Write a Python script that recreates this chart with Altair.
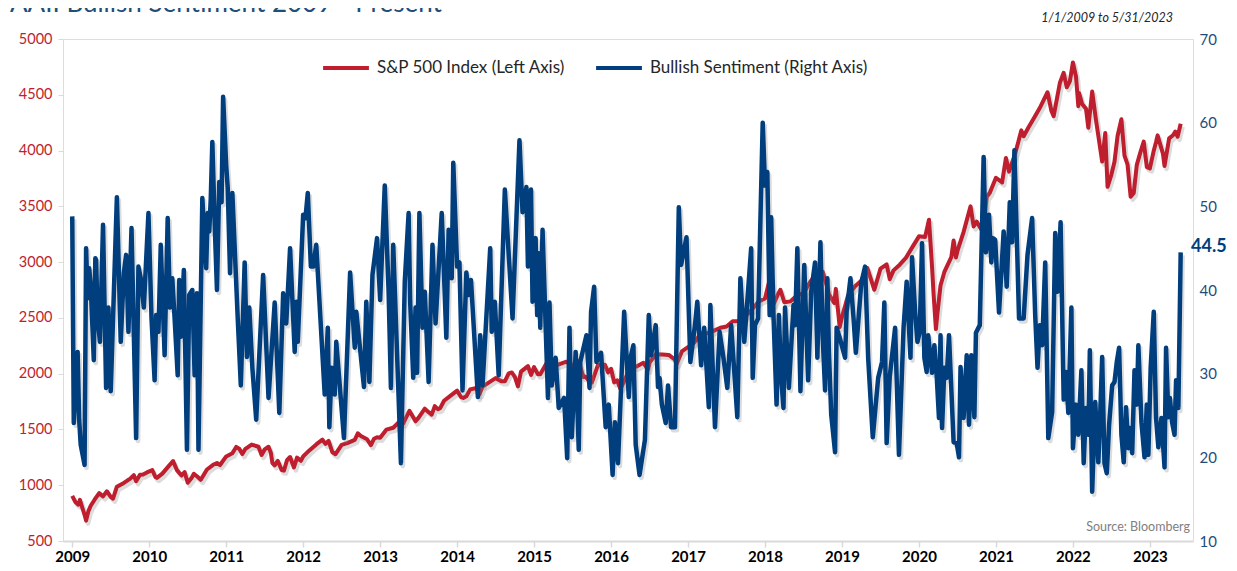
import altair as alt
import pandas as pd

RED = "#BE1E2D"
BLUE = "#003E7E"
AXBLUE = "#1F4E79"
FONT = "Lato"

SP_NAME = "S&P 500 Index (Left Axis)"
BULL_NAME = "Bullish Sentiment (Right Axis)"
TITLE = "AAII Bullish Sentiment 2009 - Present"
DATE_RANGE = "1/1/2009 to 5/31/2023"
SOURCE = "Source: Bloomberg"

# S&P 500 index (decimal year, level)
sp_t = [
    2009.00, 2009.04, 2009.08, 2009.10, 2009.13, 2009.16, 2009.18, 2009.21, 2009.24, 2009.29, 2009.35, 2009.40,
    2009.45, 2009.50, 2009.53, 2009.58, 2009.67, 2009.72, 2009.75, 2009.80, 2009.83, 2009.88, 2009.92, 2009.97,
    2010.04, 2010.08, 2010.10, 2010.17, 2010.25, 2010.31, 2010.36, 2010.42, 2010.46, 2010.50, 2010.55, 2010.58,
    2010.62, 2010.67, 2010.75, 2010.83, 2010.88, 2010.92, 2011.00,
    2011.08, 2011.13, 2011.17, 2011.21, 2011.25, 2011.33, 2011.42, 2011.46, 2011.50, 2011.55, 2011.58, 2011.60,
    2011.63, 2011.67, 2011.72, 2011.75, 2011.79, 2011.83, 2011.88, 2011.92, 2011.97, 2012.00,
    2012.08, 2012.17, 2012.25, 2012.29, 2012.33, 2012.38, 2012.42, 2012.50, 2012.58, 2012.67, 2012.71, 2012.75,
    2012.83, 2012.88, 2012.92, 2012.96, 2013.00,
    2013.08, 2013.17, 2013.25, 2013.30, 2013.33, 2013.38, 2013.46, 2013.50, 2013.58, 2013.63, 2013.67, 2013.71,
    2013.75, 2013.78, 2013.83, 2013.92, 2014.00,
    2014.05, 2014.08, 2014.12, 2014.17, 2014.25, 2014.29, 2014.33, 2014.42, 2014.50, 2014.58, 2014.62, 2014.67,
    2014.71, 2014.75, 2014.79, 2014.83, 2014.92, 2014.96, 2015.00,
    2015.05, 2015.08, 2015.17, 2015.25, 2015.33, 2015.42, 2015.50, 2015.55, 2015.58, 2015.64, 2015.67, 2015.72,
    2015.75, 2015.83, 2015.92, 2015.96, 2016.00,
    2016.04, 2016.08, 2016.12, 2016.17, 2016.25, 2016.33, 2016.42, 2016.48, 2016.50, 2016.58, 2016.67, 2016.75,
    2016.83, 2016.85, 2016.92, 2017.00,
    2017.08, 2017.17, 2017.25, 2017.33, 2017.42, 2017.50, 2017.58, 2017.67, 2017.75, 2017.83, 2017.92, 2018.00,
    2018.07, 2018.08, 2018.11, 2018.17, 2018.20, 2018.25, 2018.33, 2018.42, 2018.50, 2018.58, 2018.67, 2018.75,
    2018.81, 2018.83, 2018.90, 2018.92, 2018.97, 2019.00,
    2019.08, 2019.17, 2019.25, 2019.33, 2019.42, 2019.50, 2019.58, 2019.62, 2019.67, 2019.75, 2019.83, 2019.92,
    2020.00,
    2020.08, 2020.13, 2020.17, 2020.19, 2020.22, 2020.24, 2020.28, 2020.33, 2020.42, 2020.45, 2020.48, 2020.50,
    2020.58, 2020.67, 2020.71, 2020.75, 2020.83, 2020.88, 2020.92, 2021.00,
    2021.08, 2021.13, 2021.17, 2021.25, 2021.33, 2021.36, 2021.42, 2021.50, 2021.58, 2021.67, 2021.72, 2021.75,
    2021.83, 2021.88, 2021.92, 2021.96, 2022.00,
    2022.04, 2022.07, 2022.08, 2022.12, 2022.17, 2022.20, 2022.25, 2022.30, 2022.33, 2022.38, 2022.42, 2022.45,
    2022.50, 2022.54, 2022.58, 2022.63, 2022.67, 2022.71, 2022.75, 2022.79, 2022.83, 2022.88, 2022.92, 2022.96,
    2023.00,
    2023.05, 2023.08, 2023.10, 2023.17, 2023.19, 2023.25, 2023.30, 2023.33, 2023.36, 2023.40,
]
sp_v = [
    905, 850, 826, 869, 800, 735, 683, 768, 816, 870, 929, 900,
    946, 896, 880, 987, 1021, 1044, 1057, 1090, 1036, 1094, 1096, 1115,
    1136, 1074, 1066, 1104, 1169, 1217, 1135, 1087, 1118, 1022, 1065, 1102,
    1080, 1049, 1141, 1183, 1199, 1181, 1258,
    1286, 1343, 1327, 1279, 1326, 1364, 1345, 1271, 1321, 1345, 1292, 1199,
    1178, 1219, 1136, 1131, 1224, 1253, 1159, 1247, 1219, 1258,
    1312, 1366, 1408, 1370, 1398, 1295, 1278, 1362, 1379, 1407, 1465, 1441,
    1412, 1359, 1416, 1430, 1426,
    1498, 1515, 1569, 1555, 1598, 1667, 1573, 1606, 1686, 1655, 1633, 1709,
    1682, 1691, 1757, 1806, 1848,
    1790, 1783, 1797, 1859, 1872, 1815, 1884, 1924, 1960, 1931, 1931, 2003,
    2011, 1972, 1886, 2018, 2068, 1989, 2059,
    1994, 1995, 2105, 2068, 2086, 2107, 2063, 2127, 2104, 1971, 1972, 1931,
    1920, 2079, 2080, 2012, 2044,
    1922, 1940, 1865, 1932, 2060, 2065, 2097, 2037, 2099, 2174, 2171, 2168,
    2126, 2085, 2199, 2239,
    2279, 2364, 2363, 2384, 2412, 2423, 2470, 2472, 2519, 2575, 2648, 2674,
    2873, 2824, 2620, 2714, 2752, 2641, 2648, 2705, 2718, 2816, 2902, 2914,
    2768, 2712, 2633, 2760, 2417, 2507,
    2704, 2784, 2834, 2946, 2752, 2942, 2980, 2847, 2926, 2977, 3038, 3141,
    3231,
    3226, 3380, 2954, 2711, 2400, 2541, 2790, 2912, 3044, 3193, 3041, 3100,
    3271, 3500, 3320, 3363, 3270, 3585, 3622, 3756,
    3714, 3934, 3811, 3973, 4181, 4128, 4204, 4298, 4395, 4523, 4357, 4308,
    4605, 4697, 4567, 4620, 4790,
    4662, 4398, 4516, 4418, 4374, 4204, 4530, 4272, 4132, 3901, 4158, 3675,
    3785, 3900, 4130, 4280, 3955, 3873, 3586, 3620, 3872, 3993, 4080, 3852,
    3840,
    3999, 4077, 4136, 3970, 3862, 4109, 4137, 4169, 4124, 4240,
]

# AAII bullish sentiment (decimal year, percent)
bull_t = [
    2009.00, 2009.02, 2009.07, 2009.09, 2009.11, 2009.16, 2009.18, 2009.20, 2009.22, 2009.24, 2009.28, 2009.30,
    2009.31, 2009.33, 2009.36, 2009.40, 2009.44, 2009.47, 2009.50, 2009.58, 2009.63, 2009.67, 2009.70, 2009.73,
    2009.77, 2009.83, 2009.86, 2009.89, 2009.93, 2009.99,
    2010.03, 2010.07, 2010.09, 2010.12, 2010.15, 2010.20, 2010.24, 2010.27, 2010.30, 2010.33, 2010.37, 2010.39,
    2010.41, 2010.45, 2010.49, 2010.52, 2010.56, 2010.59, 2010.62, 2010.64, 2010.69, 2010.74, 2010.76, 2010.78,
    2010.80, 2010.82, 2010.85, 2010.88, 2010.91, 2010.94, 2010.96,
    2011.00, 2011.02, 2011.05, 2011.08, 2011.15, 2011.19, 2011.24, 2011.27, 2011.30, 2011.34, 2011.39, 2011.48,
    2011.55, 2011.63, 2011.69, 2011.74, 2011.78, 2011.83, 2011.89, 2011.91, 2011.93,
    2012.00, 2012.03, 2012.06, 2012.10, 2012.13, 2012.17, 2012.28, 2012.32, 2012.34, 2012.37, 2012.41, 2012.43,
    2012.53, 2012.61, 2012.67, 2012.69, 2012.79, 2012.82, 2012.86, 2012.90, 2012.96,
    2013.00, 2013.06, 2013.11, 2013.14, 2013.17, 2013.27, 2013.32, 2013.37, 2013.39, 2013.43, 2013.46, 2013.48,
    2013.51, 2013.55, 2013.58, 2013.63, 2013.68, 2013.72, 2013.80, 2013.86, 2013.89, 2013.93, 2013.95,
    2014.00, 2014.03, 2014.07, 2014.12, 2014.15, 2014.18, 2014.27, 2014.30, 2014.33, 2014.43, 2014.45, 2014.49,
    2014.54, 2014.62, 2014.72, 2014.81, 2014.85, 2014.90, 2014.92, 2014.96, 2014.98,
    2015.02, 2015.04, 2015.06, 2015.08, 2015.11, 2015.18, 2015.20, 2015.23, 2015.28, 2015.32, 2015.39, 2015.43,
    2015.46, 2015.49, 2015.54, 2015.58, 2015.60, 2015.68, 2015.72, 2015.74, 2015.78, 2015.81, 2015.87, 2015.93,
    2015.97,
    2016.02, 2016.05, 2016.09, 2016.17, 2016.23, 2016.26, 2016.29, 2016.32, 2016.37, 2016.44, 2016.49, 2016.52,
    2016.58, 2016.61, 2016.63, 2016.66, 2016.71, 2016.74, 2016.78, 2016.83, 2016.88, 2016.91, 2016.98,
    2017.03, 2017.09, 2017.12, 2017.17, 2017.21, 2017.27, 2017.29, 2017.35, 2017.41, 2017.46, 2017.51, 2017.56,
    2017.64, 2017.68, 2017.73, 2017.76, 2017.82, 2017.84, 2017.87, 2017.91, 2017.97,
    2018.00, 2018.03, 2018.06, 2018.08, 2018.11, 2018.15, 2018.18, 2018.21, 2018.24, 2018.26, 2018.31, 2018.37,
    2018.39, 2018.42, 2018.46, 2018.51, 2018.56, 2018.60, 2018.65, 2018.68, 2018.72, 2018.75, 2018.78, 2018.81,
    2018.83, 2018.86, 2018.91, 2018.93, 2018.97,
    2019.04, 2019.06, 2019.11, 2019.15, 2019.18, 2019.25, 2019.30, 2019.34, 2019.40, 2019.47, 2019.52, 2019.55,
    2019.58, 2019.62, 2019.69, 2019.74, 2019.80, 2019.84, 2019.89, 2019.91, 2019.95, 2019.98,
    2020.01, 2020.04, 2020.07, 2020.10, 2020.12, 2020.17, 2020.20, 2020.23, 2020.26, 2020.28, 2020.30, 2020.33,
    2020.36, 2020.39, 2020.45, 2020.49, 2020.52, 2020.54, 2020.58, 2020.62, 2020.65, 2020.68, 2020.72, 2020.74,
    2020.79, 2020.84, 2020.87, 2020.91, 2020.94, 2020.96, 2020.99,
    2021.04, 2021.10, 2021.14, 2021.18, 2021.21, 2021.24, 2021.30, 2021.36, 2021.41, 2021.47, 2021.51, 2021.54,
    2021.57, 2021.60, 2021.64, 2021.68, 2021.73, 2021.77, 2021.80, 2021.84, 2021.88, 2021.91, 2021.94, 2021.98,
    2022.00, 2022.04, 2022.07, 2022.11, 2022.14, 2022.17, 2022.20, 2022.22, 2022.25, 2022.29, 2022.33, 2022.35,
    2022.38, 2022.41, 2022.44, 2022.47, 2022.51, 2022.54, 2022.57, 2022.60, 2022.63, 2022.66, 2022.69, 2022.72,
    2022.74, 2022.77, 2022.80, 2022.83, 2022.85, 2022.89, 2022.93, 2022.96, 2022.98,
    2023.01, 2023.05, 2023.08, 2023.11, 2023.15, 2023.19, 2023.21, 2023.24, 2023.26, 2023.29, 2023.32, 2023.34,
    2023.37, 2023.40,
]
bull_v = [
    48.8, 24.1, 32.6, 24.5, 21.5, 19.1, 45.0, 39.0, 42.6, 40.6, 31.6, 43.8,
    43.6, 36.6, 33.8, 47.8, 28.3, 37.9, 27.9, 51.1, 33.8, 42.0, 44.2, 35.0,
    47.4, 22.3, 42.8, 41.4, 37.9, 49.2,
    36.6, 29.2, 37.0, 35.0, 45.4, 32.2, 48.6, 37.9, 41.4, 36.6, 29.8, 41.2,
    34.4, 42.4, 20.9, 39.4, 40.0, 29.8, 39.6, 20.9, 51.0, 42.6, 49.2, 47.0,
    51.0, 57.7, 48.1, 40.0, 52.9, 50.5, 63.1,
    54.9, 52.2, 42.0, 51.6, 36.6, 28.6, 43.3, 32.0, 37.9, 30.7, 24.5, 41.8,
    27.1, 38.5, 25.3, 39.6, 36.0, 45.0, 32.6, 38.6, 33.8,
    49.0, 48.6, 51.6, 42.8, 42.8, 45.4, 27.5, 35.5, 23.6, 30.7, 27.5, 33.8,
    22.3, 42.1, 33.1, 37.4, 28.4, 38.6, 29.0, 41.8, 46.2,
    38.8, 52.5, 39.8, 28.3, 45.4, 19.3, 41.0, 49.2, 38.6, 29.5, 37.9, 30.1,
    49.2, 35.5, 39.8, 29.0, 45.4, 36.0, 49.2, 34.3, 47.2, 41.4, 55.2,
    42.8, 43.3, 28.0, 42.1, 39.4, 41.2, 27.2, 34.6, 28.6, 45.0, 35.0, 38.6,
    29.8, 52.0, 36.6, 57.9, 49.3, 52.3, 42.8, 52.0, 38.6,
    46.2, 37.0, 44.4, 35.5, 47.2, 27.1, 38.5, 28.6, 31.9, 25.9, 27.1, 19.9,
    35.5, 22.4, 32.6, 20.9, 31.4, 34.6, 28.3, 37.4, 40.4, 31.4, 32.5, 23.6,
    26.3,
    17.9, 24.2, 19.3, 37.4, 27.2, 32.2, 33.4, 21.5, 17.9, 22.1, 37.0, 32.2,
    35.8, 28.4, 29.5, 26.3, 24.1, 28.6, 23.6, 23.6, 49.9, 43.0, 46.3,
    31.4, 35.8, 38.6, 31.0, 35.5, 26.0, 38.2, 23.6, 35.0, 31.9, 28.3, 35.8,
    24.8, 41.4, 33.8, 37.4, 45.0, 29.5, 35.8, 36.6, 60.0,
    52.5, 54.1, 37.0, 48.7, 37.0, 26.3, 37.0, 29.5, 25.9, 37.9, 28.3, 38.2,
    35.8, 45.0, 27.9, 43.0, 29.2, 39.8, 43.3, 31.9, 45.7, 34.3, 28.0, 41.4,
    32.6, 25.1, 20.6, 35.5, 34.3,
    31.9, 37.4, 41.4, 36.6, 32.5, 40.8, 42.8, 31.9, 22.4, 29.5, 31.4, 38.5,
    21.7, 29.6, 35.5, 20.3, 35.5, 41.0, 31.9, 43.9, 37.4, 33.8,
    35.0, 45.6, 31.9, 30.2, 34.6, 30.1, 33.4, 29.8, 24.7, 34.6, 23.5, 30.7,
    29.5, 34.6, 21.8, 21.7, 20.0, 30.8, 24.7, 32.2, 23.9, 32.2, 24.8, 34.9,
    35.8, 55.9, 44.5, 49.0, 43.3, 46.2, 46.0,
    37.3, 47.0, 40.4, 50.5, 45.7, 56.7, 36.6, 36.6, 44.2, 48.6, 37.0, 30.7,
    35.8, 33.4, 43.3, 22.3, 25.4, 46.8, 39.8, 48.1, 26.9, 30.2, 25.3, 37.9,
    21.1, 26.3, 22.7, 30.4, 19.3, 25.9, 22.7, 32.8, 15.9, 26.6, 19.4, 23.9,
    32.0, 19.3, 18.1, 23.9, 28.6, 29.0, 31.4, 33.1, 22.7, 19.4, 26.0, 21.1,
    23.5, 20.5, 30.4, 26.3, 33.4, 24.2, 20.0, 26.3, 20.3,
    30.7, 37.4, 24.7, 21.2, 24.7, 18.8, 33.1, 24.8, 27.1, 24.1, 22.7, 29.2,
    25.9, 44.5,
]

year_ticks = list(range(2009, 2024))
sp_ticks = list(range(500, 5001, 500))
bull_ticks = list(range(10, 71, 10))

sp = pd.DataFrame({"t": sp_t, "v": sp_v, "series": SP_NAME})
bull = pd.DataFrame({"t": bull_t, "v": bull_v, "series": BULL_NAME})
last = bull.tail(1)

W, H = 1130, 502

x_enc = alt.X(
    "t:Q",
    scale=alt.Scale(domain=[2008.88, 2023.56], nice=False, zero=False),
    axis=alt.Axis(values=year_ticks, format="d", title=None, grid=False,
                  labelFont=FONT, labelFontSize=15, labelFontWeight="bold", labelColor="#000000",
                  tickColor="#D9D9D9", tickSize=6, tickWidth=1.5,
                  domainColor="#D9D9D9", domainWidth=2, labelPadding=2),
)

color_enc = alt.Color(
    "series:N",
    scale=alt.Scale(domain=[SP_NAME, BULL_NAME], range=[RED, BLUE]),
    legend=alt.Legend(orient="none", legendX=258, legendY=4, direction="horizontal", title=None,
                      labelFont=FONT, labelFontSize=17, labelColor="#262626", labelLimit=0,
                      symbolType="stroke", symbolStrokeWidth=4, symbolSize=2100,
                      labelOffset=6, columnPadding=22, padding=0),
)

y_left = alt.Y(
    "v:Q",
    scale=alt.Scale(domain=[500, 5000], nice=False, zero=False),
    axis=alt.Axis(values=sp_ticks, format="d", orient="left", title=None, grid=False, domain=False,
                  labelFont=FONT, labelFontSize=14.5, labelColor=RED,
                  tickColor="#D9D9D9", tickSize=5, labelPadding=6),
)
y_right = alt.Y(
    "v:Q",
    scale=alt.Scale(domain=[10, 70], nice=False, zero=False),
    axis=alt.Axis(values=bull_ticks, format="d", orient="right", title=None, grid=False, domain=False,
                  labelFont=FONT, labelFontSize=15, labelColor=AXBLUE,
                  ticks=False, tickSize=0, labelPadding=6),
)

sp_shadow = alt.Chart(sp).mark_line(color="#808080", opacity=0.28, strokeWidth=4.5,
                                    xOffset=2, yOffset=3, strokeJoin="round").encode(x=x_enc, y=y_left)
sp_line = alt.Chart(sp).mark_line(strokeWidth=4, strokeJoin="round").encode(x=x_enc, y=y_left, color=color_enc)
left = alt.layer(sp_shadow, sp_line)

bull_shadow = alt.Chart(bull).mark_line(color="#808080", opacity=0.28, strokeWidth=4.5,
                                        xOffset=2, yOffset=3, strokeJoin="round").encode(x=x_enc, y=y_right)
bull_line = alt.Chart(bull).mark_line(strokeWidth=4.5, strokeJoin="round").encode(x=x_enc, y=y_right, color=color_enc)
last_label = alt.Chart(last).mark_text(align="left", baseline="middle", font=FONT, fontSize=18,
                                       fontWeight="bold", color=BLUE, dy=-5).encode(
    x=alt.value(W - 2), y=y_right, text=alt.Text("v:Q", format=".1f"))
right = alt.layer(bull_shadow, bull_line, last_label)

title_txt = alt.Chart(pd.DataFrame({"s": [TITLE]})).mark_text(
    align="left", baseline="alphabetic", font=FONT, fontSize=26, color=AXBLUE).encode(
    x=alt.value(-53), y=alt.value(-27), text="s:N")
date_txt = alt.Chart(pd.DataFrame({"s": [DATE_RANGE]})).mark_text(
    align="right", baseline="alphabetic", font=FONT, fontSize=12.5, fontStyle="italic", color="#262626").encode(
    x=alt.value(1110), y=alt.value(-17), text="s:N")
source_txt = alt.Chart(pd.DataFrame({"s": [SOURCE]})).mark_text(
    align="right", baseline="alphabetic", font=FONT, fontSize=12.5, color="#808080").encode(
    x=alt.value(1127), y=alt.value(492), text="s:N")

chart = alt.layer(left, right, title_txt, date_txt, source_txt).resolve_scale(
    y="independent"
).properties(
    width=W, height=H,
    autosize=alt.AutoSizeParams(type="none"),
    padding={"left": 55, "top": 31, "right": 36, "bottom": 22},
).configure_view(stroke=None).configure(background="white")

chart.save("out.html", embed_options={"renderer": "svg", "actions": False})
